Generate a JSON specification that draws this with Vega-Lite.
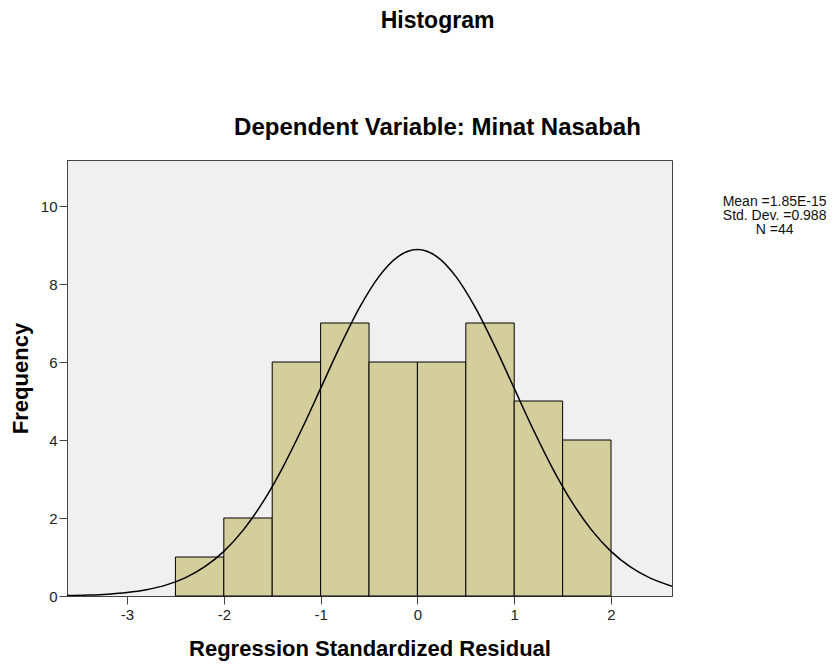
{
  "$schema": "https://vega.github.io/schema/vega-lite/v6.json",
  "autosize": "none",
  "width": 605,
  "height": 436,
  "padding": {"left": 67, "top": 160, "right": 167, "bottom": 70},
  "background": "white",
  "title": {
    "text": "Histogram",
    "subtitle": "Dependent Variable: Minat Nasabah",
    "anchor": "middle",
    "frame": "group",
    "dx": 68,
    "offset": 20,
    "font": "Liberation Sans",
    "fontSize": 23,
    "fontWeight": "bold",
    "color": "black",
    "subtitleFont": "Liberation Sans",
    "subtitleFontSize": 24,
    "subtitleFontWeight": "bold",
    "subtitleColor": "black",
    "subtitlePadding": 83
  },
  "config": {
    "view": {"fill": "#f0f0f0", "stroke": "#444", "strokeWidth": 1},
    "axis": {
      "labelFont": "Liberation Sans",
      "labelFontSize": 15,
      "labelColor": "#222",
      "titleFont": "Liberation Sans",
      "titleFontSize": 22,
      "titleFontWeight": "bold",
      "titleColor": "black",
      "domainColor": "#444",
      "tickColor": "#444",
      "tickSize": 8,
      "grid": false
    }
  },
  "layer": [
    {
      "data": {
        "values": [
          {"bin_start": -2.5, "bin_end": -2.0, "count": 1},
          {"bin_start": -2.0, "bin_end": -1.5, "count": 2},
          {"bin_start": -1.5, "bin_end": -1.0, "count": 6},
          {"bin_start": -1.0, "bin_end": -0.5, "count": 7},
          {"bin_start": -0.5, "bin_end": 0.0, "count": 6},
          {"bin_start": 0.0, "bin_end": 0.5, "count": 6},
          {"bin_start": 0.5, "bin_end": 1.0, "count": 7},
          {"bin_start": 1.0, "bin_end": 1.5, "count": 5},
          {"bin_start": 1.5, "bin_end": 2.0, "count": 4}
        ]
      },
      "mark": {"type": "rect", "fill": "#d3ce9b", "stroke": "black", "strokeWidth": 1},
      "encoding": {
        "x": {
          "field": "bin_start",
          "type": "quantitative",
          "scale": {"domain": [-3.62, 2.63], "nice": false, "zero": false},
          "axis": {"values": [-3, -2, -1, 0, 1, 2], "labelExpr": "'' + datum.value", "title": "Regression Standardized Residual", "titlePadding": 16, "labelPadding": 3}
        },
        "x2": {"field": "bin_end"},
        "y": {
          "field": "count",
          "type": "quantitative",
          "scale": {"domain": [0, 11.18], "nice": false},
          "axis": {"values": [0, 2, 4, 6, 8, 10], "labelExpr": "'' + datum.value", "title": "Frequency", "titlePadding": 8, "labelPadding": 2}
        },
        "y2": {"datum": 0}
      }
    },
    {
      "data": {
        "values": [
          {"x": -3.62, "y": 0.0098},
          {"x": -3.4, "y": 0.0238},
          {"x": -3.2, "y": 0.0468},
          {"x": -3.0, "y": 0.0884},
          {"x": -2.8, "y": 0.160},
          {"x": -2.6, "y": 0.278},
          {"x": -2.4, "y": 0.465},
          {"x": -2.2, "y": 0.744},
          {"x": -2.0, "y": 1.145},
          {"x": -1.8, "y": 1.690},
          {"x": -1.6, "y": 2.394},
          {"x": -1.4, "y": 3.255},
          {"x": -1.2, "y": 4.249},
          {"x": -1.0, "y": 5.323},
          {"x": -0.8, "y": 6.400},
          {"x": -0.6, "y": 7.387},
          {"x": -0.4, "y": 8.184},
          {"x": -0.2, "y": 8.703},
          {"x": 0.0, "y": 8.883},
          {"x": 0.2, "y": 8.703},
          {"x": 0.4, "y": 8.184},
          {"x": 0.6, "y": 7.387},
          {"x": 0.8, "y": 6.400},
          {"x": 1.0, "y": 5.323},
          {"x": 1.2, "y": 4.249},
          {"x": 1.4, "y": 3.255},
          {"x": 1.6, "y": 2.394},
          {"x": 1.8, "y": 1.690},
          {"x": 2.0, "y": 1.145},
          {"x": 2.2, "y": 0.744},
          {"x": 2.4, "y": 0.465},
          {"x": 2.63, "y": 0.252}
        ]
      },
      "mark": {"type": "line", "color": "black", "strokeWidth": 1.5, "interpolate": "monotone", "clip": true},
      "encoding": {
        "x": {"field": "x", "type": "quantitative"},
        "y": {"field": "y", "type": "quantitative"}
      }
    },
    {
      "data": {
        "values": [
          {"stat": "Mean =1.85E-15", "order": 1},
          {"stat": "Std. Dev. =0.988", "order": 2},
          {"stat": "N =44", "order": 3}
        ]
      },
      "transform": [
        {"aggregate": [{"op": "values", "field": "stat", "as": "rows"}]},
        {"calculate": "pluck(datum.rows, 'stat')", "as": "lines"}
      ],
      "mark": {
        "type": "text",
        "font": "Liberation Sans",
        "fontSize": 14,
        "lineHeight": 14,
        "align": "center",
        "baseline": "top",
        "color": "#111",
        "clip": false
      },
      "encoding": {
        "text": {"field": "lines"},
        "x": {"datum": 3.69, "type": "quantitative"},
        "y": {"datum": 10.27, "type": "quantitative"}
      }
    }
  ]
}
